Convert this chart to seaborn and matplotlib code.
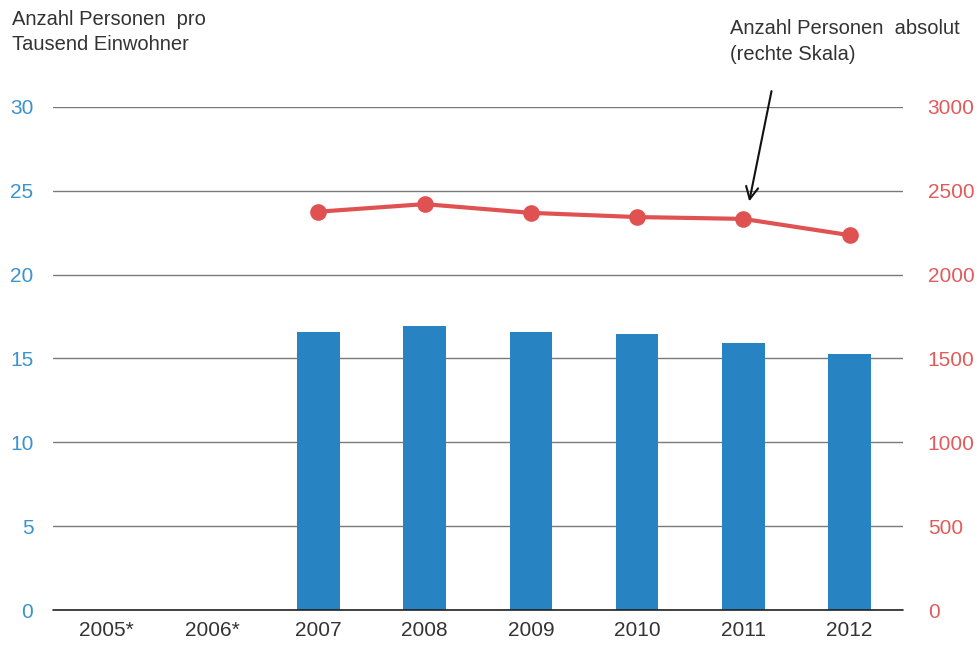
import matplotlib
matplotlib.use("Agg")
import matplotlib.pyplot as plt
import numpy as np
import pandas as pd
import seaborn as sns

years = ["2005*", "2006*", "2007", "2008", "2009", "2010", "2011", "2012"]
pro_tausend = [np.nan, np.nan, 16.6, 16.95, 16.55, 16.45, 15.9, 15.25]
absolut = [np.nan, np.nan, 2375, 2420, 2368, 2343, 2332, 2235]

left_ticks = [0, 5, 10, 15, 20, 25, 30]
right_ticks = [0, 500, 1000, 1500, 2000, 2500, 3000]

sns.set_theme(style="white")
plt.rcParams["font.family"] = ["Liberation Sans", "DejaVu Sans"]

df = pd.DataFrame({"jahr": years, "pro": pro_tausend, "abs": absolut})
df["pos"] = range(len(years))

fig = plt.figure(figsize=(9.77, 6.48), dpi=100)
ax = fig.add_axes([0.054, 0.0586, 0.870, 0.7765])

sns.barplot(data=df.dropna(), x="jahr", y="pro", order=years, color="#2783c2",
            width=0.4, saturation=1, linewidth=0, ax=ax)
ax.set_ylim(0, 30)
ax.set_xlim(-0.5, 7.5)
ax.set_yticks(left_ticks)
ax.yaxis.grid(True, color="#7a7a7a", linewidth=1)
ax.set_axisbelow(True)
ax.axhline(0, color="#222222", linewidth=1.2, clip_on=False, zorder=3)
ax.set_xlabel("")
ax.set_ylabel("")
for s in ax.spines.values():
    s.set_visible(False)
ax.tick_params(axis="y", colors="#3a93d0", labelsize=15, length=0, pad=14)
ax.tick_params(axis="x", colors="#333333", labelsize=15, length=0, pad=8)

ax2 = ax.twinx()
sns.lineplot(data=df.dropna(), x="pos", y="abs", color="#e05252", linewidth=3,
             marker="o", markersize=12, markeredgewidth=0, ax=ax2)
ax2.set_ylim(0, 3000)
ax2.set_xlim(-0.5, 7.5)
ax2.set_yticks(right_ticks)
ax2.set_ylabel("")
ax2.set_xlabel("")
for s in ax2.spines.values():
    s.set_visible(False)
ax2.tick_params(axis="y", colors="#e35a5a", labelsize=15, length=0, pad=18)

fig.text(0.012, 0.985, "Anzahl Personen  pro\nTausend Einwohner", ha="left", va="top",
         fontsize=14.5, color="#333333", linespacing=1.45)

ax2.annotate("Anzahl Personen  absolut\n(rechte Skala)", xy=(6.05, 2430),
             xytext=(0.747, 0.97), textcoords="figure fraction",
             ha="left", va="top", fontsize=14.5, color="#333333", linespacing=1.45)
ax2.annotate("", xy=(6.05, 2420), xytext=(6.27, 3110),
             arrowprops=dict(arrowstyle="->", color="#111111", lw=1.5,
                             mutation_scale=22), annotation_clip=False)

fig.savefig("out.png", dpi=100)
